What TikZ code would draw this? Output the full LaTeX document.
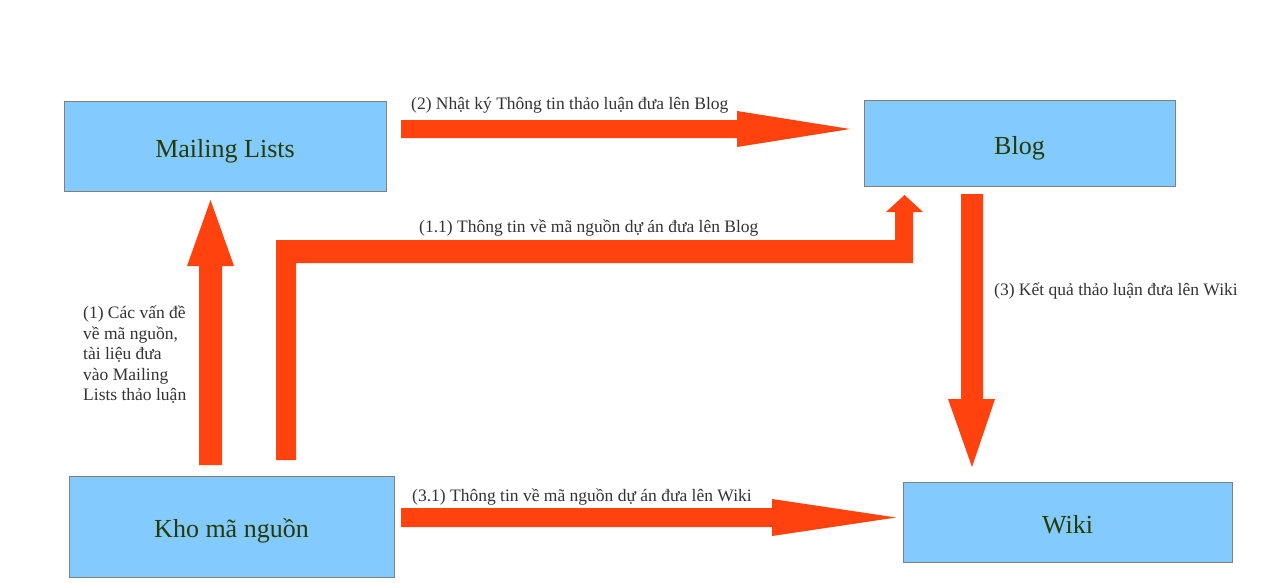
\documentclass[tikz,border=0pt]{standalone}
\usepackage{fontspec}
\setmainfont{Liberation Serif}
\definecolor{boxfill}{RGB}{131,202,255}
\definecolor{boxline}{RGB}{128,128,128}
\definecolor{boxtext}{RGB}{38,58,6}
\definecolor{arrowred}{RGB}{255,66,14}
\definecolor{labeltext}{RGB}{51,51,51}
\begin{document}
\begin{tikzpicture}[x=1pt,y=-1pt,
  box/.style={draw=boxline,line width=1pt,fill=boxfill,inner sep=0pt,text=boxtext,
    text height=22pt,text depth=0pt,
    font=\fontsize{26}{30}\selectfont},
  lbl/.style={inner sep=0pt,text=labeltext,font=\fontsize{17.5}{20.5}\selectfont},
  blockarrow/.style={fill=arrowred,draw=none}]
\useasboundingbox[fill=white] (0,0) rectangle (1277,582);

% boxes
\node[box,minimum width=322pt,minimum height=90pt] (ml) at (225,146) {Mailing Lists};
\node[box,minimum width=311pt,minimum height=86pt] (blog) at (1019.5,143) {Blog};
\node[box,minimum width=325pt,minimum height=101pt] (kho) at (231.5,526.5) {Kho mã nguồn};
\node[box,minimum width=329pt,minimum height=80pt] (wiki) at (1067.5,522) {Wiki};

% (2) Mailing Lists -> Blog
\fill[blockarrow] (401,120) -- (737,120) -- (737,111) -- (850,129) -- (737,147) -- (737,138) -- (401,138) -- cycle;
% (3.1) Kho -> Wiki
\fill[blockarrow] (401,508) -- (772,508) -- (772,499) -- (896,517.5) -- (772,536) -- (772,527) -- (401,527) -- cycle;
% (1) Kho -> Mailing Lists
\fill[blockarrow] (199,465) -- (199,266) -- (187,266) -- (210.5,200) -- (234,266) -- (222,266) -- (222,465) -- cycle;
% (3) Blog -> Wiki
\fill[blockarrow] (961,194) -- (983,194) -- (983,399) -- (995,399) -- (972,467) -- (948,399) -- (961,399) -- cycle;
% (1.1) Kho -> Blog (elbow)
\fill[blockarrow] (276,460) -- (276,240) -- (895,240) -- (895,212) -- (886,212) -- (904.5,195) -- (923,212) -- (913,212) -- (913,263) -- (296,263) -- (296,460) -- cycle;

% labels
\node[lbl,anchor=west] (l2) at (411,105) {(2) Nhật ký Thông tin thảo luận đưa lên Blog};
\node[lbl,anchor=west] (l11) at (419,228) {(1.1) Thông tin về mã nguồn dự án đưa lên Blog};
\node[lbl,anchor=west] (l3) at (994,291) {(3) Kết quả thảo luận đưa lên Wiki};
\node[lbl,anchor=west] (l31) at (412,497) {(3.1) Thông tin về mã nguồn dự án đưa lên Wiki};
\node[lbl,anchor=north west,align=left] (l1) at (83,306) {(1) Các vấn đề\\về mã nguồn,\\tài liệu đưa\\vào Mailing\\Lists thảo luận};
\end{tikzpicture}
\end{document}
